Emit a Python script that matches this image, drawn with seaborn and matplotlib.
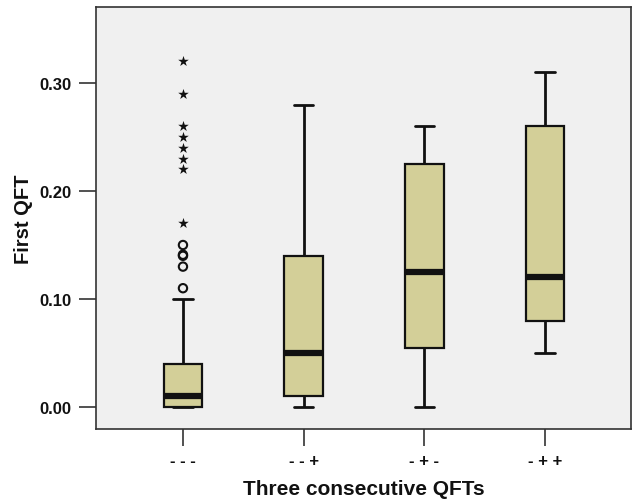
import pandas as pd
import matplotlib
matplotlib.use("Agg")
import matplotlib.pyplot as plt
import seaborn as sns

# Values (SPSS style boxplot)
groups = ['- - -', '- - +', '- + -', '- + +']
whisker_low = [0.00, 0.00, 0.00, 0.05]
q1 = [0.00, 0.01, 0.055, 0.08]
median = [0.01, 0.05, 0.125, 0.12]
q3 = [0.04, 0.14, 0.225, 0.26]
whisker_high = [0.10, 0.28, 0.26, 0.31]

# outliers of the first group: circles (mild) and stars (extreme)
mild_outliers = [0.11, 0.13, 0.14, 0.141, 0.15]
extreme_outliers = [0.17, 0.22, 0.23, 0.24, 0.25, 0.26, 0.29, 0.32]

# five-number table: quartiles of five points land exactly on the values
rows = []
for g, lo, a, m, b, hi in zip(groups, whisker_low, q1, median, q3, whisker_high):
    for v in (lo, a, m, b, hi):
        rows.append({'group': g, 'qft': v})
df = pd.DataFrame(rows)
mild = pd.DataFrame({'group': groups[0], 'qft': mild_outliers})
extreme = pd.DataFrame({'group': groups[0], 'qft': extreme_outliers})

sns.set_style("white")
plt.rcParams['font.family'] = ['Liberation Sans', 'DejaVu Sans']

fig = plt.figure(figsize=(6.32, 5.02), dpi=100)
ax = fig.add_axes([0.152, 0.1434, 0.846, 0.8406])
ax.set_facecolor('#f0f0f0')

sns.boxplot(data=df, x='group', y='qft', order=groups, whis=(0, 100),
            width=0.32, color='#d3cf98', saturation=1, linecolor='#111111',
            linewidth=1.6, showfliers=False,
            medianprops={'linewidth': 4.5, 'color': '#111111'},
            whiskerprops={'linewidth': 2}, capprops={'linewidth': 2}, ax=ax)

sns.stripplot(data=mild, x='group', y='qft', order=groups, jitter=False,
              marker='o', size=6, facecolor='none', edgecolor='#111111',
              linewidth=1.5, color='none', ax=ax)
sns.stripplot(data=extreme, x='group', y='qft', order=groups, jitter=False,
              marker='*', size=8, color='#111111', ax=ax)

ax.set_xlim(-0.72, 3.71)
ax.set_ylim(-0.0204, 0.3704)
ax.set_yticks([0.0, 0.1, 0.2, 0.3])
ax.set_yticklabels(['0.00', '0.10', '0.20', '0.30'])

for s in ax.spines.values():
    s.set_color('#333333')
    s.set_linewidth(1.2)
ax.tick_params(axis='both', bottom=True, left=True, length=12, width=1.2,
               color='#333333', labelcolor='#111111', labelsize=12, pad=6)
ax.tick_params(axis='x', pad=5)
for t in ax.get_xticklabels() + ax.get_yticklabels():
    t.set_fontweight('bold')

ax.set_xlabel('Three consecutive QFTs', fontsize=15, fontweight='bold',
              color='#111111', labelpad=8)
ax.set_ylabel('First QFT', fontsize=14.5, fontweight='bold',
              color='#111111', labelpad=4)

fig.savefig('out.png', dpi=100)
